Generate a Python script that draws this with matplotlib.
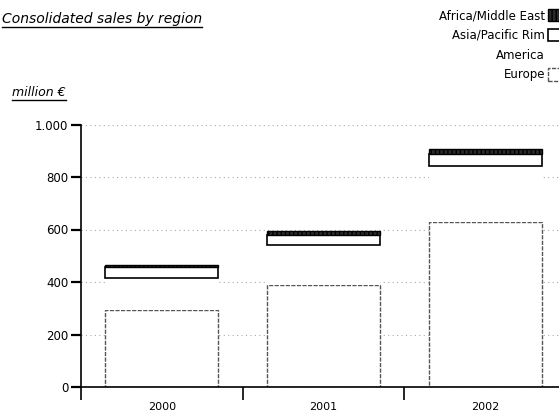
import matplotlib
matplotlib.use('Agg')
import matplotlib.pyplot as plt
import numpy as np
from matplotlib.lines import Line2D
from matplotlib.ticker import FuncFormatter

years = ['2000', '2001', '2002']
europe = [293, 389, 630]
america = [122, 151, 212]
asia_pacific = [41, 40, 46]
africa_middle_east = [10, 15, 20]


def underline(fig, txt, gap=3, lw=1.0):
    # matplotlib has no underlined text, so draw a rule below the text box
    renderer = fig.canvas.get_renderer()
    bb = txt.get_window_extent(renderer=renderer)
    W, H = fig.bbox.width, fig.bbox.height
    y = (bb.y0 - gap + 2) / H
    fig.add_artist(Line2D([bb.x0 / W, bb.x1 / W], [y, y], color='black', lw=lw))


if __name__ == '__main__':
    plt.rcParams['font.family'] = 'DejaVu Sans'
    fig = plt.figure(figsize=(5.59, 4.12), dpi=100)
    ax = fig.add_axes([81 / 559, 25 / 412, 485 / 559, 262.5 / 412])

    x = np.arange(len(years))
    width = 0.7
    bottom = np.zeros(len(years))

    ax.bar(x, europe, width, bottom=bottom, facecolor='white',
           edgecolor='#555555', linewidth=1.0, linestyle=(0, (3, 1)),
           label='Europe', zorder=2)
    bottom += europe
    ax.bar(x, america, width, bottom=bottom, facecolor='white',
           edgecolor='none', linewidth=0, label='America', zorder=2)
    bottom += america
    ax.bar(x, asia_pacific, width, bottom=bottom, facecolor='white',
           edgecolor='black', linewidth=1.2, label='Asia/Pacific Rim',
           zorder=2)
    bottom += asia_pacific
    ax.bar(x, africa_middle_east, width, bottom=bottom, facecolor='#2b2b2b',
           edgecolor='black', linewidth=1.0, hatch='||||',
           label='Africa/Middle East', zorder=2)

    ax.set_xlim(-0.5, 2.5)
    ax.set_ylim(0, 1000)
    ax.set_yticks(np.arange(0, 1001, 200))
    ax.yaxis.set_major_formatter(
        FuncFormatter(lambda v, p: f'{int(v):,}'.replace(',', '.')))
    ax.set_xticks(x)
    ax.set_xticklabels(years)
    ax.set_xticks([-0.5, 0.5, 1.5, 2.5], minor=True)

    ax.tick_params(axis='y', direction='out', length=7, width=1.6,
                   pad=2, labelsize=8.5)
    ax.tick_params(axis='x', which='major', length=0, pad=11, labelsize=8)
    ax.tick_params(axis='x', which='minor', direction='out', length=9,
                   width=1.2)

    for side in ['top', 'right']:
        ax.spines[side].set_visible(False)
    for side in ['left', 'bottom']:
        ax.spines[side].set_linewidth(1.2)

    ax.set_axisbelow(True)
    ax.yaxis.grid(True, linestyle=(0, (1, 3)), color='#aaaaaa', linewidth=0.8)
    ax.get_ygridlines()[0].set_visible(False)

    handles, labels = ax.get_legend_handles_labels()
    fig.legend(handles[::-1], labels[::-1], loc='upper right',
               bbox_to_anchor=(562 / 559, 1 - 9 / 412), frameon=False,
               markerfirst=False, fontsize=8.5, borderpad=0,
               borderaxespad=0, handlelength=1.15, handleheight=1.25,
               handletextpad=0.3, labelspacing=0.55)

    title = fig.text(2 / 559, 1 - 23 / 412, 'Consolidated sales by region',
                     fontsize=10, style='italic', va='baseline')
    unit = fig.text(12 / 559, 1 - 96 / 412, 'million €', fontsize=9,
                    style='italic', va='baseline')
    underline(fig, title)
    underline(fig, unit)

    fig.savefig('out.png', dpi=100)
